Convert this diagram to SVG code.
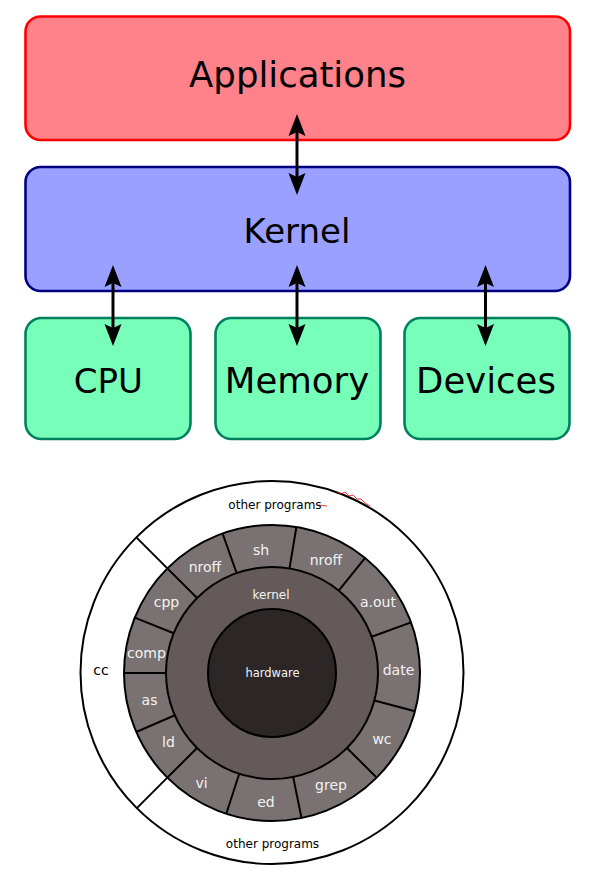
<svg xmlns="http://www.w3.org/2000/svg" width="591" height="877" viewBox="0 0 591 877">
<style>
.box{stroke-width:2.6}
.app{fill:#ff818a;stroke:#ff0000}
.ker{fill:#9aa0ff;stroke:#000080}
.hw{fill:#77ffb9;stroke:#008060}
.big{font-family:"DejaVu Sans",sans-serif;font-size:35.5px;fill:#000;text-anchor:middle}
.conn{stroke:#000;stroke-width:3;fill:none;marker-start:url(#ah);marker-end:url(#ah)}
.ring{stroke:#000;stroke-width:2}
.div{stroke:#000;stroke-width:2;fill:none}
.seg{font-family:"DejaVu Sans",sans-serif;font-size:14px;fill:#f2f2f2;text-anchor:middle}
.sm{font-family:"DejaVu Sans",sans-serif;font-size:12px;text-anchor:middle}
</style>
<defs>
<marker id="ah" markerUnits="userSpaceOnUse" viewBox="0 -9 22 18" refX="4" refY="0" markerWidth="22" markerHeight="18" orient="auto-start-reverse">
<path d="M22,0 L0,-8.5 L4,0 L0,8.5 z" fill="#000"/>
</marker>
</defs>
<rect width="591" height="877" fill="#fff"/>
<g id="applications">
<rect class="box app" x="25.5" y="16.5" width="544.5" height="123.5" rx="15"/>
<text class="big" x="297.5" y="86.7">Applications</text>
</g>
<g id="kernel">
<rect class="box ker" x="25.5" y="167" width="544.5" height="124" rx="15"/>
<text class="big" x="297" y="242.5" style="font-size:34px">Kernel</text>
</g>
<g id="cpu">
<rect class="box hw" x="25.5" y="318" width="165" height="121" rx="16"/>
<text class="big" x="108.3" y="392.8" style="font-size:34px">CPU</text>
</g>
<g id="memory">
<rect class="box hw" x="215.5" y="318" width="165" height="121" rx="16"/>
<text class="big" x="297" y="392.5">Memory</text>
</g>
<g id="devices">
<rect class="box hw" x="404.5" y="318" width="165" height="121" rx="16"/>
<text class="big" x="486" y="393">Devices</text>
</g>
<g id="connectors">
<line class="conn" x1="297" y1="132" x2="297" y2="177"/>
<line class="conn" x1="113" y1="283" x2="113" y2="328"/>
<line class="conn" x1="297" y1="283" x2="297" y2="328"/>
<line class="conn" x1="485.5" y1="283" x2="485.5" y2="328"/>
</g>
<g id="unix-rings">
<circle cx="272" cy="672.5" r="191.5" fill="#fff" stroke="#000" stroke-width="2"/>
<line class="div" x1="136.6" y1="537.6" x2="167.35" y2="568.35"/>
<line class="div" x1="136.6" y1="808.4" x2="167.35" y2="777.65"/>
<path d="M318,505 L327,506 M337,491.5 L341,494 L345,492 L349,496 L353,495 L357,499 L361,499 L365,503 L370,506" stroke="#ff0000" stroke-width="1" fill="none" opacity="0.8"/>
<text class="sm" x="275" y="508.5">other programs</text>
<text class="sm" x="272.5" y="848">other programs</text>
<text class="sm" x="101" y="674.5" style="font-size:14px">cc</text>
<circle class="ring" cx="272" cy="673" r="148" fill="#7a7272"/>
<path class="div" d="M236.62,573.08 L222.60,533.50 M289.49,568.45 L296.42,527.03 M338.71,590.63 L365.14,557.99 M371.61,636.75 L411.08,622.38 M374.39,700.43 L414.96,711.30 M346.95,747.95 L376.65,777.65 M293.14,776.87 L301.51,818.03 M239.25,773.81 L226.27,813.76 M197.05,747.95 L167.35,777.65 M174.79,715.26 L136.27,732.01 M166,673 L124,673 M173.72,633.29 L134.77,617.56 M197.05,598.05 L167.35,568.35"/>
<text class="seg" x="205" y="572">nroff</text>
<text class="seg" x="261" y="554.5">sh</text>
<text class="seg" x="326" y="564.5">nroff</text>
<text class="seg" x="378" y="607">a.out</text>
<text class="seg" x="398.5" y="674.5">date</text>
<text class="seg" x="382" y="744">wc</text>
<text class="seg" x="331" y="790">grep</text>
<text class="seg" x="266" y="807">ed</text>
<text class="seg" x="201.5" y="788">vi</text>
<text class="seg" x="168.5" y="747">ld</text>
<text class="seg" x="149.5" y="705">as</text>
<text class="seg" x="146.5" y="658">comp</text>
<text class="seg" x="166.5" y="607">cpp</text>
<circle class="ring" cx="272" cy="673" r="106" fill="#645a59"/>
<text class="sm" x="271" y="599" fill="#f2f2f2">kernel</text>
<circle class="ring" cx="272" cy="673" r="64" fill="#2c2626"/>
<text class="sm" x="272.5" y="677" fill="#f2f2f2" style="font-size:11.5px">hardware</text>
</g>
</svg>
